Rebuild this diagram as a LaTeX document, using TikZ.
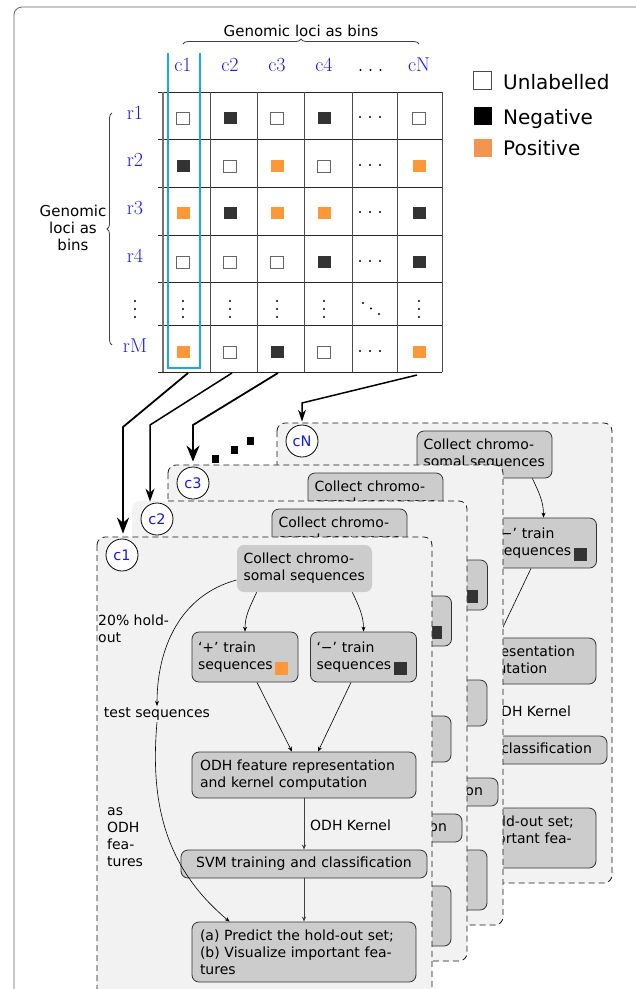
\documentclass[tikz,border=0pt]{standalone}
\usepackage{fontspec}
\newfontfamily\dv{DejaVu Sans}
\usetikzlibrary{arrows.meta,decorations.pathreplacing,calc}
\definecolor{orng}{RGB}{252,152,56}
\definecolor{legorng}{RGB}{243,149,81}
\definecolor{darksq}{RGB}{51,51,51}
\definecolor{cyanl}{RGB}{20,170,230}
\definecolor{panelfill}{RGB}{242,242,242}
\definecolor{boxfill}{RGB}{204,204,204}
\definecolor{lblue}{RGB}{25,25,235}
\newif\iffullp
\newcommand\pfont{\dv\fontsize{14}{17}\selectfont}
\newcommand\sqU[2]{\draw[black!60,line width=1pt,fill=white] (#1-6.5,#2-6) rectangle (#1+6.5,#2+6);}
\newcommand\sqN[2]{\fill[darksq] (#1-6.5,#2-6) rectangle (#1+6.5,#2+6);}
\newcommand\sqP[2]{\fill[orng] (#1-6.5,#2-6) rectangle (#1+6.5,#2+6);}
\newcommand\mydotsh[2]{\foreach \dx in {-10,0,10}{\fill (#1+\dx,#2) circle (1.2);}}
\newcommand\mydotsv[2]{\foreach \dy in {-8,0,8}{\fill (#1,#2+\dy) circle (1.2);}}
\tikzset{
 panelborder/.style={draw=black!90, line width=0.8pt, dash pattern=on 6pt off 4pt, rounded corners=8pt},
 cnode/.style={circle, draw=black, line width=0.8pt, fill=white, minimum size=32pt, inner sep=0pt, text=lblue, font=\dv\fontsize{14.5}{17}\selectfont},
 flowbox/.style={draw=black!80, line width=0.8pt, fill=boxfill, rounded corners=7pt, inner ysep=0pt, align=left, font=\pfont},
 nobord/.style={draw=none},
 minisq/.style={minimum size=13pt, inner sep=0pt},
 parr/.style={-{Stealth[length=5pt,width=4pt]}, line width=0.6pt, black},
 parr2/.style={-{Stealth[length=5pt,width=4pt]}, line width=0.9pt, black!75},
 ptext/.style={inner sep=0pt, font=\pfont, align=left},
 marrow/.style={line width=1.8pt, black},
 lbl/.style={text=lblue, font=\fontsize{20}{24}\selectfont, inner sep=0pt, anchor=base},
}
\newcommand\drawpanel[6]{%
\begin{scope}[shift={(#2,#3)}]
\fill[panelfill, rounded corners=8pt] (0,0) rectangle (335,460);
#6
\node[cnode] (#1circ) at (25,18) {#4};
\node[flowbox,#5,text width=122pt,inner xsep=6.5pt,minimum height=47pt] (#1col) at (207.5,31.5) {\makebox[122pt][s]{Collect chromo-}\\somal sequences};
\node[flowbox,text width=94pt,inner xsep=6pt,minimum height=50pt] (#1neg) at (266.5,120) {‘−’ train\\sequences};
\node[minisq,fill=darksq] (#1nsq) at ([xshift=-16.5pt,yshift=13.5pt]#1neg.south east) {};
\node[flowbox,text width=208pt,inner xsep=8pt,minimum height=46pt] (#1odh) at (207,238) {ODH feature representation\\and kernel computation};
\node[flowbox,text width=230pt,inner xsep=8pt,minimum height=28pt,align=center] (#1svm) at (207,327) {SVM training and classification};
\node[flowbox,text width=208pt,inner xsep=8pt,minimum height=60pt] (#1pred) at (207,415) {(a) Predict the hold-out set;\\\makebox[208pt][s]{(b) Visualize important fea-}\\tures};
\node[ptext,anchor=west] (#1kern) at (213,288) {ODH Kernel};
\draw[parr] ([xshift=-20pt]#1col.south east) to[out=-65,in=90] (#1neg.north);
\draw[parr] ([xshift=-12.5pt]#1neg.south) -- ([xshift=14pt]#1odh.north);
\draw[parr2] (#1odh.south) -- (#1svm.north);
\draw[parr2] (#1svm.south) -- (#1pred.north);
\iffullp
\node[flowbox,text width=94pt,inner xsep=6pt,minimum height=50pt] (#1pos) at (148,120) {‘+’ train\\sequences};
\node[minisq,fill=orng] (#1psq) at ([xshift=-16.5pt,yshift=13.5pt]#1pos.south east) {};
\node[ptext,inner sep=1.5pt] (#1test) at (60,177) {test sequences};
\node[ptext,anchor=west] (#1hold) at (1,92) {20\% hold-\\out};
\node[ptext,anchor=west] (#1feat) at (10,300) {as\\ODH\\fea-\\tures};
\draw[parr] ([xshift=20pt]#1col.south west) to[out=-115,in=90] (#1pos.north);
\draw[parr] ([yshift=-11.5pt]#1col.west) to[out=195,in=90] (#1test.north);
\draw[parr] ([xshift=12pt]#1pos.south) -- ([xshift=-12pt]#1odh.north);
\draw[parr] (#1test.south) to[out=-95,in=140] ([xshift=38pt]#1pred.north west);
\fi
\end{scope}}
\begin{document}
\begin{tikzpicture}[x=1pt,y=-1pt]
\useasboundingbox (0,0) rectangle (636,989);
\clip (0,0) rectangle (636,989);
\fill[white] (0,0) rectangle (636,989);
\draw[black!60, line width=0.8pt, rounded corners=8pt] (14,7) rectangle (645,1000);
% header
\node[font=\dv\fontsize{15}{18}\selectfont, inner sep=0pt, anchor=base] (toplab) at (301,36) {Genomic loci as bins};
\draw[decorate, decoration={brace, amplitude=5pt}, black!75, line width=0.8pt] (183,44) -- (419,44);
\node[font=\dv\fontsize{15}{17}\selectfont, align=center, inner sep=0pt] (leftlab) at (73,228) {Genomic\\loci as\\bins};
\draw[decorate, decoration={brace, amplitude=5pt}, black!75, line width=0.8pt] (112,345) -- (112,113);
% column labels
\node[lbl] (hc1) at (183,71) {c1};
\node[lbl] (hc2) at (230,71) {c2};
\node[lbl] (hc3) at (277,71) {c3};
\node[lbl] (hc4) at (324,71) {c4};
\mydotsh{370.5}{70}
\node[lbl] (hcN) at (419,71) {cN};
% row labels
\node[lbl] (hr1) at (135,119) {r1};
\node[lbl] (hr2) at (135,166) {r2};
\node[lbl] (hr3) at (135,214) {r3};
\node[lbl] (hr4) at (135,262) {r4};
\mydotsv{135}{309}
\node[lbl] (hrM) at (135,352) {rM};
% grid
\foreach \yy in {92,139,187,235,282,325,372} {\draw[black!85, line width=0.9pt] (158,\yy) -- (442,\yy);}
\foreach \xx in {210,257,304,352,397,442} {\draw[black!70, line width=0.9pt] (\xx,92) -- (\xx,372);}
\draw[black!55, line width=1.3pt] (163,92) -- (163,372);
% cells
\sqU{183}{118}\sqN{230}{118}\sqU{277}{118}\sqN{324}{118}\mydotsh{370}{117}\sqU{419}{118}
\sqN{183}{166}\sqU{230}{166}\sqP{277}{166}\sqU{324}{166}\mydotsh{370}{165}\sqP{419}{166}
\sqP{183}{213}\sqN{230}{213}\sqP{277}{213}\sqP{324}{213}\mydotsh{370}{212}\sqN{419}{213}
\sqU{183}{262}\sqU{230}{262}\sqU{277}{262}\sqN{324}{262}\mydotsh{370}{261}\sqN{419}{262}
\mydotsv{183}{309}\mydotsv{230}{309}\mydotsv{277}{309}\mydotsv{324}{309}\mydotsv{419}{309}
\fill (363,303) circle (1.2); \fill (371,308.5) circle (1.2); \fill (379,314) circle (1.2);
\sqP{183}{352}\sqU{230}{352}\sqN{277}{352}\sqU{324}{352}\mydotsh{370}{351}\sqP{419}{352}
% cyan column highlight
\draw[cyanl, line width=2.2pt] (168,53) -- (168,368) -- (200,368) -- (200,53);
% legend
\draw[black!70, line width=1pt, fill=white] (473.5,71.5) rectangle (491.5,89.5);
\node[font=\dv\fontsize{20}{24}\selectfont, inner sep=0pt, anchor=base west] (legU) at (503,89) {Unlabelled};
\fill[black] (473.5,107) rectangle (491.5,125);
\node[font=\dv\fontsize{20}{24}\selectfont, inner sep=0pt, anchor=base west] (legN) at (503,124) {Negative};
\fill[legorng] (473.5,138.5) rectangle (491.5,156.5);
\node[font=\dv\fontsize{20}{24}\selectfont, inner sep=0pt, anchor=base west] (legP) at (503,155) {Positive};
% panels (back to front)
\fullpfalse
\drawpanel{pN}{277}{423}{cN}{}{\draw[panelborder] (0,0) rectangle (335,460);}
\drawpanel{pc}{168}{465}{c3}{}{\draw[panelborder] (0,0) rectangle (335,460);}
\drawpanel{pb}{132}{501}{c2}{}{\draw[panelborder] (36,0) -- (335,0) -- (335,460) -- (0,460);}
\fullptrue
\drawpanel{pa}{97}{537}{c1}{nobord}{\draw[panelborder] (0,0) rectangle (335,460);}
% arrows from matrix
\coordinate (s1) at (188,373); \coordinate (b1) at (123,427);
\coordinate (s2) at (232,373); \coordinate (b2) at (150,425);
\coordinate (s3) at (278,373); \coordinate (b3) at (193,425);
\coordinate (s4) at (417,375); \coordinate (b4) at (302,403);
\draw[marrow, -{Stealth[length=16pt,width=12pt]}, shorten >=5pt] (s1) -- (b1) -- (b1 |- pacirc.north);
\draw[marrow, line width=1.5pt, -{Stealth[length=13pt,width=9pt]}, shorten >=1pt] (s2) -- (b2) -- (b2 |- pbcirc.north);
\draw[marrow, -{Stealth[length=16pt,width=13pt]}, shorten >=5pt] (s3) -- (b3) -- (b3 |- pccirc.north);
\draw[marrow, line width=1.5pt, -{Stealth[length=12pt,width=8pt]}, shorten >=3pt] (s4) -- (b4) -- (b4 |- pNcirc.north);
% ellipsis squares
\fill[black] (211.5,455) rectangle (218.5,463);
\fill[black] (230.5,446) rectangle (237.5,454);
\fill[black] (246.5,437) rectangle (253.5,445);
\end{tikzpicture}
\end{document}
